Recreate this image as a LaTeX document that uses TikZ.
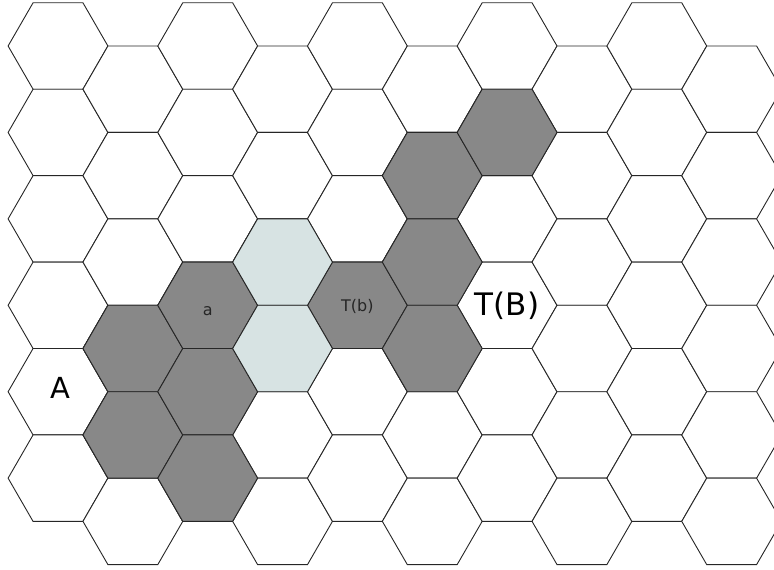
\documentclass[tikz,border=0pt]{standalone}
\usepackage{fontspec}
\setmainfont{DejaVu Sans}

\definecolor{cellgray}{HTML}{888888}
\definecolor{cellmist}{HTML}{D7E3E3}

% one hexagon around the current point (radius 49.9)
\newcommand{\hexpath}{++(0:49.9) -- ++(120:49.9) -- ++(180:49.9) -- ++(240:49.9)
    -- ++(300:49.9) -- ++(0:49.9) -- cycle}

\begin{document}
\begin{tikzpicture}[x=1pt, y=-1pt,
    % Estilos
    cell/.style={
        draw=black!85, line width=0.9pt, line join=miter, fill=#1
    },
    cell/.default=white,
    biglbl/.style={
        font=\fontsize{#1}{34}\selectfont, text=black, inner sep=0pt
    },
    biglbl/.default=29,
    smalllbl/.style={
        font=\fontsize{16}{18}\selectfont, text=black!85, inner sep=0pt
    }
]

\useasboundingbox (0,0) rectangle (774,570);
\clip (0,0) rectangle (774,570);

% =============================================
% CENTROS DE LAS CELDAS
% =============================================
\foreach \i in {0,...,9} {
    \foreach \j in {0,...,5} {
        \pgfmathsetmacro{\cx}{58+74.85*\i}
        \pgfmathsetmacro{\cy}{46+86.43*\j+43.215*mod(\i,2)}
        \coordinate (h-\i-\j) at (\cx,\cy);
    }
}

% =============================================
% REJILLA
% =============================================
\foreach \i in {0,...,9} {
    \foreach \j in {0,...,5} {
        \draw[cell] (h-\i-\j) \hexpath;
    }
}

% celdas oscuras
\foreach \i/\j in {1/3, 1/4, 2/3, 2/4, 2/5, 4/3, 5/1, 5/2, 5/3, 6/1} {
    \draw[cell=cellgray] (h-\i-\j) \hexpath;
}

% celdas claras
\foreach \i/\j in {3/2, 3/3} {
    \draw[cell=cellmist] (h-\i-\j) \hexpath;
}

% =============================================
% ETIQUETAS
% =============================================
\node[biglbl, xshift=2.7pt, yshift=3.7pt] (lblA) at (h-0-4) {A};
\node[smalllbl, yshift=-6pt] (lbla) at (h-2-3) {a};
\node[smalllbl, yshift=-1pt] (lblTb) at (h-4-3) {T(b)};
\node[biglbl=31] (lblTB) at (h-6-3) {T(B)};

\end{tikzpicture}
\end{document}
